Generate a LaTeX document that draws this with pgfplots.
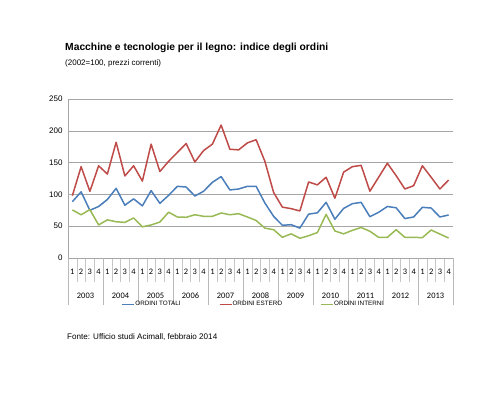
\documentclass[border=0pt]{standalone}
\usepackage{pgfplots}
\pgfplotsset{compat=1.18}
\usepackage{fontspec}
\setmainfont{Liberation Sans}
\newfontfamily\calib{Carlito}

\definecolor{totali}{HTML}{4A7EBB}
\definecolor{estero}{HTML}{BE4B48}
\definecolor{interni}{HTML}{98B954}
\definecolor{gridgray}{HTML}{A6A6A6}

% quarterly index, 2003Q1 .. 2013Q4 (x = 0 .. 43)
\pgfplotstableread{
x tot est int
0 88.6 98 75.5
1 104 143.6 68
2 75 104.8 76
3 81 145 52
4 92 132 60
5 109.5 182 57
6 83 129 56
7 93 145 63
8 82 121 49
9 106 179 52
10 86 136 56.6
11 98.5 152 72
12 112.7 166 64.5
13 111.6 180 64
14 97.5 151 68
15 105 169 65.5
16 119 179 65.5
17 128 209 70.8
18 107 171 68
19 108.5 170 69.7
20 112.7 181 64.5
21 112.7 186 59
22 86.5 152 47
23 65.5 103 44.5
24 51.4 80 32.5
25 52.4 77.6 38
26 47 74 31
27 69 119.5 35
28 71 115 40
29 87.5 127 68.6
30 61 94 42.5
31 78 135 38
32 85.4 143.6 43.5
33 87.5 145.7 48
34 65 105 42
35 71.8 127 32.5
36 81 149 32.5
37 79 129.5 44.5
38 62 108.5 32.5
39 64.5 113.7 32.5
40 79.7 145 32
41 78.6 127 44
42 64.5 108.5 37.7
43 67.6 122.6 31.4
}\ordini

\begin{document}
\begin{tikzpicture}
\path[use as bounding box] (0,0) rectangle (500pt,400pt);

\node[anchor=base west, inner sep=0pt, font=\fontsize{10.3}{12}\selectfont\bfseries] at (65pt,349pt)
  {Macchine e tecnologie per il legno: indice degli ordini};
\node[anchor=base west, inner sep=0pt, font=\fontsize{8}{9}\selectfont] at (65pt,335pt)
  {(2002=100, prezzi correnti)};
\node[anchor=base west, inner sep=0pt, font=\fontsize{8.1}{9}\selectfont] at (67pt,60.5pt)
  {Fonte: Ufficio studi Acimall, febbraio 2014};

\begin{axis}[
  at={(68pt,142pt)}, anchor=south west,
  scale only axis, width=385pt, height=159pt,
  xmin=-0.5, xmax=43.5, ymin=0, ymax=250,
  clip=false,
  axis x line*=bottom, axis y line*=left,
  axis line style={gridgray, -},
  ytick={0,50,...,250},
  ymajorgrids, grid style={gridgray, line width=0.6pt},
  ytick style={draw=none},
  yticklabel style={font=\fontsize{8}{9}\selectfont, xshift=-2pt},
  /pgf/number format/assume math mode=true,
  xtick={0,...,43},
  xticklabels={1,2,3,4,1,2,3,4,1,2,3,4,1,2,3,4,1,2,3,4,1,2,3,4,
               1,2,3,4,1,2,3,4,1,2,3,4,1,2,3,4,1,2,3,4},
  xticklabel style={font=\calib\fontsize{8.4}{9}\selectfont, anchor=center, yshift=-14pt},
  tick align=outside,
  major tick length=0pt,
  minor xtick={-0.5,0.5,...,43.5},
  minor tick length=24pt,
  xtick style={gray!45, line width=0.5pt},
  extra x ticks={-0.5,3.5,...,43.5},
  extra x tick labels={},
  extra x tick style={major tick length=47pt, xtick style={gray!55, line width=0.5pt}},
  legend columns=3,
  legend style={draw=none, fill=none, at={(0.14,-0.289)}, anchor=west,
    font=\fontsize{6.3}{7}\selectfont, inner sep=0pt,
    nodes={inner sep=0.6pt},
    /tikz/every even column/.append style={column sep=38pt}},
  legend image code/.code={\draw[#1, line width=0.7pt] (0pt,0pt) -- (12pt,0pt);},
  every axis plot/.append style={line width=1.5pt, line join=round, mark=none},
]
\addplot[totali] table[x=x, y=tot] {\ordini};
\addlegendentry{ORDINI TOTALI}
\addplot[estero] table[x=x, y=est] {\ordini};
\addlegendentry{ORDINI ESTERO}
\addplot[interni] table[x=x, y=int] {\ordini};
\addlegendentry{ORDINI INTERNI}

\pgfplotsinvokeforeach{0,...,10}{
  \node[font=\calib\fontsize{8.4}{9}\selectfont] at (axis cs:{4*#1+1.5},0) [yshift=-38pt] {\pgfmathparse{int(2003+#1)}\pgfmathresult};
}
\end{axis}
\end{tikzpicture}
\end{document}
